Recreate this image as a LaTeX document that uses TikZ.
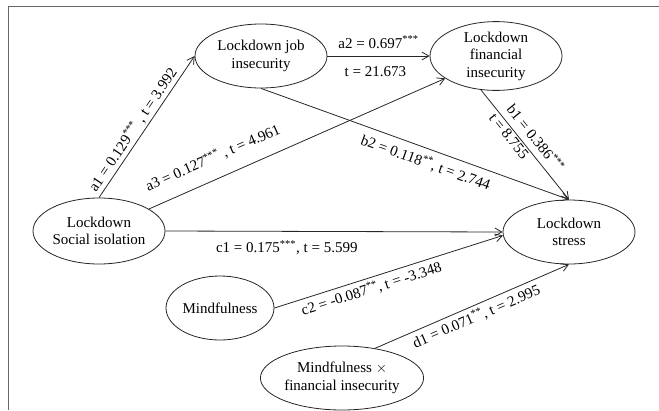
\documentclass[tikz,border=0pt]{standalone}
\usepackage{fontspec}
\setmainfont{Liberation Serif}
\usetikzlibrary{arrows.meta,shapes.geometric}
\begin{document}
\begin{tikzpicture}[x=1pt,y=-1pt,
  every node/.style={font=\fontsize{15}{17.5}\selectfont},
  latent/.style={draw=black!85, line width=0.8pt, ellipse, inner sep=0pt, align=center,
    minimum width=132pt, minimum height=64pt},
  path/.style={draw=black!85, line width=0.8pt, -{Straight Barb[length=7pt,width=8pt]}},
  lab/.style={sloped, inner sep=0pt, anchor=center},
  frame/.style={draw=black!60, line width=1pt}]
\useasboundingbox (0,0) rectangle (659,410);
\draw[frame] (8,410) -- (8,6) -- (659,6);
\node[latent] (job) at (261,56) {Lockdown job\\insecurity};
\node[latent] (fin) at (496,56) {Lockdown\\financial\\insecurity};
\node[latent, minimum height=66pt] (si) at (99,231) {Lockdown\\Social isolation};
\node[latent] (st) at (569,232) {Lockdown\\stress};
\node[latent, minimum width=108pt] (mf) at (220,308) {Mindfulness};
\node[latent, minimum width=154pt] (mfi) at (342,378) {Mindfulness $\times$\\financial insecurity};
\draw[path] (si.north) -- (job.west)
  node[lab, pos=0.44, yshift=10pt] {a1 = 0.129\textsuperscript{***} , t = 3.992};
\draw[path] (job.east) -- (fin.west)
  node[pos=0.5, anchor=base, yshift=8pt, inner sep=0pt] {a2 = 0.697\textsuperscript{***}}
  node[pos=0.47, anchor=base, yshift=-20pt, inner sep=0pt] {t = 21.673};
\draw[path] (si) -- (fin)
  node[lab, pos=0.244, yshift=21pt] {a3 = 0.127\textsuperscript{***} , t = 4.961};
\draw[path] (fin.246) -- (st.north)
  node[lab, pos=0.51, yshift=13pt] {b1 = 0.386\textsuperscript{***}}
  node[lab, pos=0.38, yshift=-7pt] {t = 8.755};
\draw[path] (job.south) -- (st.north)
  node[lab, pos=0.55, yshift=-14pt] {b2 = 0.118\textsuperscript{**}, t = 2.744};
\draw[path] (si.east) -- (st.west)
  node[pos=0.36, anchor=base, yshift=-21pt, inner sep=0pt] {c1 = 0.175\textsuperscript{***}, t = 5.599};
\draw[path] (mf.east) -- (st.183)
  node[lab, pos=0.41, yshift=-11pt] {c2 = -0.087\textsuperscript{**}, t = -3.348};
\draw[path] (mfi.42) -- (st.south)
  node[lab, pos=0.5, yshift=-11pt] {d1 = 0.071\textsuperscript{**}, t = 2.995};
\end{tikzpicture}
\end{document}
